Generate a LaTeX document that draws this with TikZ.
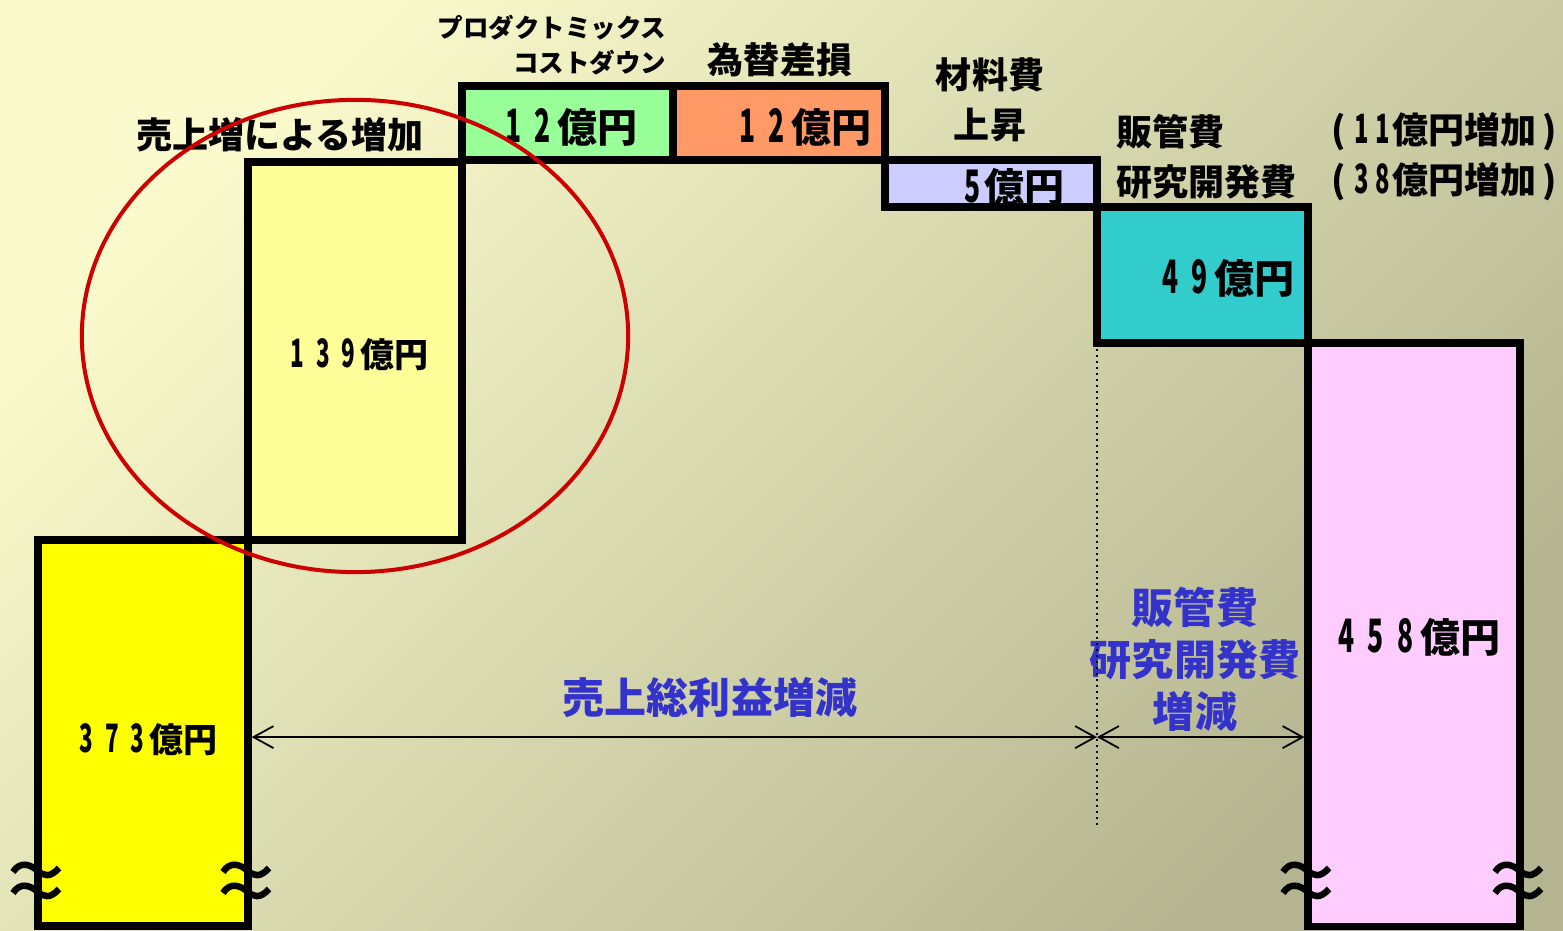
\documentclass[tikz,border=0pt]{standalone}
\usepackage{fontspec}
\setmainfont{Noto Sans CJK JP}
\newfontfamily\dgf{Noto Sans CJK JP}[FakeStretch=0.66]
\usetikzlibrary{arrows.meta,shapes.geometric,calc}
\newcommand\fsz[2]{\fontsize{#1}{#2}\selectfont}
\newcommand\dg[1]{\makebox[0.74em]{\scalebox{1}[1.15]{\dgf\bfseries #1}}}
\newcommand\dn[1]{\makebox[0.56em]{\scalebox{1}[1.12]{\dgf\bfseries #1}}}
\definecolor{bgA}{HTML}{FAFACC}
\definecolor{bgM}{HTML}{D9D9B2}
\definecolor{bgB}{HTML}{B4B490}
\definecolor{cYel}{HTML}{FFFF00}
\definecolor{cLt}{HTML}{FFFF99}
\definecolor{cGrn}{HTML}{99FF99}
\definecolor{cOrg}{HTML}{FF9966}
\definecolor{cLav}{HTML}{CCCCFF}
\definecolor{cCyn}{HTML}{33CCCC}
\definecolor{cPnk}{HTML}{FFCCFF}
\definecolor{cBlue}{HTML}{3333CC}
\definecolor{cRed}{HTML}{CC0000}
\newcommand\wv[2]{\draw[wave] (#1-25,#2+1) .. controls (#1-18,#2-10) and (#1-8,#2-7) .. (#1,#2) .. controls (#1+6,#2+5) and (#1+12,#2+7) .. (#1+21,#2-3);}
\tikzset{
  bar/.style={draw=black, line width=0.075cm, outer sep=0pt, inner sep=0pt, anchor=north west},
  val/.style={font=\bfseries\fsz{11.38pt}{13pt}, inner sep=0pt, text=black},
  valsm/.style={font=\bfseries\fsz{9.67pt}{11pt}, inner sep=0pt, text=black},
  ttl/.style={font=\bfseries\fsz{10.24pt}{14.2pt}, inner sep=0pt, text=black},
  kata/.style={font=\bfseries\fsz{7.25pt}{9.96pt}, inner sep=0pt, text=black},
  blu/.style={font=\bfseries\fsz{11.95pt}{14.8pt}, inner sep=0pt, text=cBlue},
  dimarrow/.style={{Straight Barb[length=0.2cm,width=0.22cm]}-{Straight Barb[length=0.2cm,width=0.22cm]}, line width=0.018cm, draw=black},
  wave/.style={draw=black, line width=0.065cm},
}
\begin{document}
\begin{tikzpicture}[x=0.01cm,y=-0.01cm]
\useasboundingbox (0,0) rectangle (1563,931);
\shade[top color=bgA, middle color=bgM, bottom color=bgB, shading angle=45] (0,0) rectangle (1563,931);

% bars
\node[bar, fill=cYel, minimum width=2.10cm, minimum height=3.86cm] (b373) at (38,540) {};
\node[bar, fill=cLt,  minimum width=2.14cm, minimum height=3.78cm] (b139) at (248,162) {};
\node[bar, fill=cGrn, minimum width=2.11cm, minimum height=0.74cm] (bpm) at (462,86) {};
\node[bar, fill=cOrg, minimum width=2.12cm, minimum height=0.74cm] (bfx) at (673,86) {};
\node[bar, fill=cLav, minimum width=2.12cm, minimum height=0.47cm] (bmat) at (885,160) {};
\node[bar, fill=cCyn, minimum width=2.11cm, minimum height=1.36cm] (b49) at (1097,207) {};
\node[bar, fill=cPnk, minimum width=2.12cm, minimum height=5.83cm] (b458) at (1308,343) {};

% values
\node[valsm] (t373) at (146,740) {\dg3\dg7\dg3億円};
\node[valsm] (t139) at (357,355) {\dg1\dg3\dg9億円};
\node[val] (tpm) at (568,127) {\dg1\dg2億円};
\node[val] (tfx) at (802,127) {\dg1\dg2億円};
\node[val] (tmat) at (1013,187) {\dn5億円};
\node[val] (t49) at (1225,278) {\dg4\dg9億円};
\node[val] (t458) at (1416,637) {\dg4\dg5\dg8億円};

% titles
\node[ttl] (lsales) at (280,135) {売上増による増加};
\node[kata, anchor=east, align=right] (lpm) at (667,45.5) {プロダクトミックス\\コストダウン};
\node[ttl] (lfx) at (780,60) {為替差損};
\node[ttl, align=center] (lmat) at (990,100) {材料費\\上昇};
\node[ttl, anchor=west, align=left] (lsga) at (1116,157) {販管費\\研究開発費};
\node[ttl, anchor=west, align=left] (linc) at (1331,157) {(\,\dn1\dn1億円増加\,)\\(\,\dn3\dn8億円増加\,)};

% blue labels
\node[blu] (lgp) at (710,698) {売上総利益増減};
\node[blu, align=center] (lsgab) at (1195,659) {販管費\\研究開発費\\増減};

% ellipse
\node[draw=cRed, line width=0.04cm, ellipse, minimum width=5.46cm, minimum height=4.72cm, inner sep=0pt] (oval) at (355,336) {};

% dimension arrows
\coordinate (a1) at ($(b373.east)+(3.5,4)$);
\coordinate (a2) at (b49.south west |- a1);
\coordinate (a3) at ($(b458.west |- a1)+(-3.5,0)$);
\coordinate (dend) at (b49.south west |- 0,825);
\draw[black, line width=0.012cm, dash pattern=on 0.02cm off 0.04cm] (b49.south west) -- (dend);
\draw[dimarrow] (a1) -- (a2);
\draw[dimarrow] (a2) -- (a3);

% break marks
\wv{38}{871}\wv{38}{892}
\wv{248}{871}\wv{248}{892}
\wv{1308}{871}\wv{1308}{892}
\wv{1520}{871}\wv{1520}{892}
\end{tikzpicture}
\end{document}
